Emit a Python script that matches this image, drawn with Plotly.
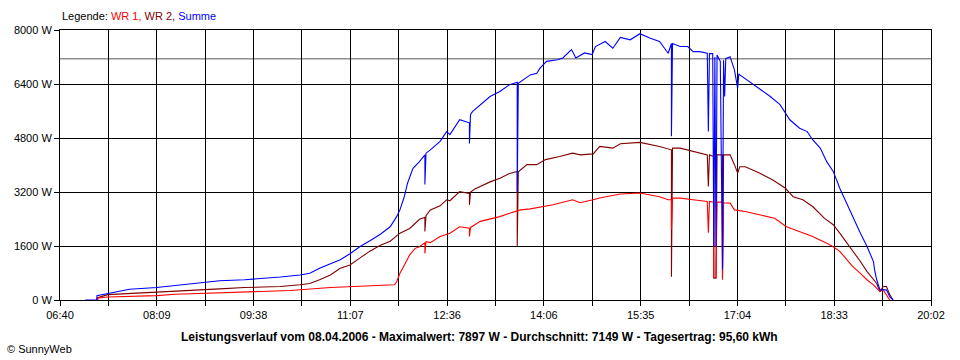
import plotly.graph_objects as go

# ---------------- data ----------------
x_tick_labels = ["06:40", "08:09", "09:38", "11:07", "12:36", "14:06",
                 "15:35", "17:04", "18:33", "20:02"]
y_tick_values = [0, 1600, 3200, 4800, 6400, 8000]
avg_w = 7149

wr1_time = ["07:15", "07:15", "07:24", "07:35", "08:09", "08:26", "08:53", "09:16", "09:44",
            "10:12", "10:49", "11:25", "11:48", "11:50", "11:53", "11:58", "12:02", "12:07",
            "12:11", "12:16", "12:16", "12:17", "12:21", "12:30", "12:39", "12:48", "12:57",
            "12:57", "12:58", "13:07", "13:19", "13:25", "13:34", "13:44", "13:53", "14:02",
            "14:14", "14:32", "14:39", "14:51", "14:57", "15:16", "15:34", "15:52", "16:00",
            "16:03", "16:03", "16:04", "16:11", "16:23", "16:36", "16:37", "16:38", "16:42",
            "16:42", "16:44", "16:45", "16:50", "16:50", "16:51", "16:57", "17:01", "17:11",
            "17:25", "17:38", "17:49", "18:01", "18:13", "18:26", "18:32", "18:38", "18:45",
            "18:50", "18:57", "19:03", "19:09", "19:12", "19:15", "19:18", "19:21", "19:24"]
wr1_w = [0, 60, 90, 100, 130, 170, 200, 220, 250,
         280, 370, 420, 450, 540, 790, 1090, 1340, 1530,
         1580, 1700, 1380, 1730, 1700, 1880, 1980, 2170, 2130,
         1880, 2150, 2330, 2420, 2470, 2570, 2670, 2700, 2750,
         2820, 2970, 2880, 2970, 3020, 3140, 3170, 3060, 2970,
         2970, 2080, 3020, 3020, 2970, 2920, 1990, 2920, 2900,
         650, 650, 2900, 2900, 600, 2880, 2870, 2670, 2620,
         2520, 2420, 2170, 2030, 1880, 1680, 1580, 1440, 1190,
         990, 790, 600, 450, 350, 250, 300, 160, 0]

wr2_time = ["07:14", "07:14", "07:24", "07:44", "08:09", "08:40", "08:53", "09:07", "09:30",
            "09:44", "10:03", "10:21", "10:30", "10:39", "10:49", "10:58", "11:07", "11:16",
            "11:25", "11:35", "11:44", "11:53", "12:02", "12:11", "12:16", "12:16", "12:17",
            "12:21", "12:30", "12:36", "12:39", "12:48", "12:57", "12:57", "12:58", "13:02",
            "13:16", "13:25", "13:34", "13:41", "13:41", "13:42", "13:50", "13:59", "14:07",
            "14:20", "14:32", "14:39", "14:51", "14:57", "15:09", "15:16", "15:34", "15:52",
            "16:02", "16:03", "16:03", "16:04", "16:11", "16:23", "16:36", "16:37", "16:38",
            "16:42", "16:42", "16:44", "16:45", "16:50", "16:50", "16:51", "16:57", "17:01",
            "17:04", "17:06", "17:11", "17:24", "17:36", "17:48", "17:55", "18:04", "18:13",
            "18:24", "18:32", "18:38", "18:45", "18:50", "18:57", "19:03", "19:09", "19:12",
            "19:15", "19:18", "19:21", "19:24", "19:27"]
wr2_w = [0, 60, 160, 190, 230, 270, 300, 330, 370,
         380, 400, 450, 490, 600, 740, 940, 1040, 1240,
         1440, 1620, 1740, 1980, 2120, 2390, 2450, 2030, 2500,
         2670, 2790, 2970, 2940, 3210, 3160, 2820, 3200, 3290,
         3500, 3610, 3750, 3810, 1600, 3800, 4010, 4010, 4160,
         4250, 4350, 4300, 4330, 4550, 4500, 4630, 4670, 4550,
         4450, 4450, 690, 4500, 4500, 4400, 4300, 3360, 4300,
         4250, 650, 650, 4300, 4300, 650, 4300, 4300, 4010,
         3760, 3950, 3950, 3760, 3560, 3310, 3060, 2970, 2770,
         2420, 2230, 1980, 1680, 1440, 1140, 850, 600, 490,
         250, 400, 400, 160, 0]

sum_time = ["07:03", "07:14", "07:14", "07:24", "07:35", "07:44", "08:09", "08:21", "08:40",
            "08:53", "09:07", "09:30", "09:44", "10:03", "10:21", "10:30", "10:39", "10:49",
            "10:58", "11:07", "11:16", "11:25", "11:35", "11:44", "11:50", "11:53", "11:57",
            "12:00", "12:05", "12:11", "12:16", "12:16", "12:17", "12:21", "12:30", "12:36",
            "12:39", "12:48", "12:53", "12:57", "12:57", "12:58", "13:00", "13:07", "13:16",
            "13:25", "13:34", "13:41", "13:41", "13:42", "13:44", "13:53", "13:59", "14:02",
            "14:08", "14:18", "14:23", "14:31", "14:35", "14:43", "14:50", "14:53", "15:02",
            "15:09", "15:16", "15:25", "15:34", "15:43", "15:52", "16:00", "16:03", "16:03",
            "16:04", "16:11", "16:18", "16:23", "16:29", "16:36", "16:37", "16:38", "16:41",
            "16:42", "16:43", "16:44", "16:45", "16:48", "16:50", "16:51", "16:52", "16:53",
            "16:57", "17:01", "17:04", "17:05", "17:06", "17:15", "17:24", "17:34", "17:43",
            "17:52", "18:01", "18:08", "18:13", "18:20", "18:26", "18:32", "18:38", "18:45",
            "18:50", "18:57", "19:03", "19:09", "19:10", "19:12", "19:15", "19:18", "19:21",
            "19:24", "19:27"]
sum_w = [0, 0, 130, 190, 270, 320, 370, 410, 470,
         510, 570, 600, 630, 680, 740, 790, 940, 1060,
         1190, 1370, 1580, 1750, 1950, 2170, 2470, 2670, 3060,
         3460, 3900, 4100, 4300, 3420, 4350, 4450, 4700, 4990,
         4900, 5340, 5300, 5250, 4640, 5500, 5590, 5790, 6030,
         6180, 6380, 6450, 3210, 6420, 6470, 6670, 6720, 6870,
         7070, 7120, 7170, 7420, 7170, 7320, 7270, 7510, 7660,
         7460, 7780, 7710, 7890, 7760, 7660, 7310, 7600, 4850,
         7600, 7510, 7510, 7360, 7360, 7310, 4990, 7300, 7300,
         1580, 7200, 1580, 7260, 7070, 900, 7100, 6030, 7150,
         7210, 6820, 6270, 6700, 6670, 6470, 6270, 6030, 5790,
         5340, 5090, 4990, 4750, 4500, 4100, 3810, 3310, 2820,
         2420, 1980, 1590, 1140, 900, 600, 300, 300, 300,
         100, 0]


def to_min(t):
    h, m = t.split(":")
    return int(h) * 60 + int(m)


x0 = to_min(x_tick_labels[0])
x1 = to_min(x_tick_labels[-1])
n_grid = 2 * (len(x_tick_labels) - 1)
grid_vals = [x0 + (x1 - x0) * k / n_grid for k in range(n_grid + 1)]
grid_text = [x_tick_labels[k // 2] if k % 2 == 0 else "" for k in range(n_grid + 1)]

FONT = "Liberation Sans, Arial, sans-serif"

fig = go.Figure()
fig.add_trace(go.Scatter(x=[to_min(t) for t in wr2_time], y=wr2_w, mode="lines",
                         line=dict(color="#800000", width=1.1), name="WR 2"))
fig.add_trace(go.Scatter(x=[to_min(t) for t in wr1_time], y=wr1_w, mode="lines",
                         line=dict(color="#FF0000", width=1.1), name="WR 1"))
fig.add_trace(go.Scatter(x=[to_min(t) for t in sum_time], y=sum_w, mode="lines",
                         line=dict(color="#0000FF", width=1.1), name="Summe"))

fig.add_shape(type="line", xref="paper", x0=0, x1=1, yref="y", y0=avg_w, y1=avg_w,
              line=dict(color="#909090", width=1.5), layer="between")

fig.update_layout(
    width=960, height=360,
    margin=dict(l=60, r=29, t=30, b=60),
    paper_bgcolor="white", plot_bgcolor="white",
    showlegend=False,
    font=dict(family=FONT, size=11, color="black"),
)
fig.update_xaxes(range=[x0, x1], tickmode="array", tickvals=grid_vals, ticktext=grid_text,
                 showgrid=True, gridcolor="black", gridwidth=1,
                 showline=True, linecolor="black", linewidth=1, mirror=True,
                 ticks="outside", ticklen=5, tickcolor="black", tickwidth=1,
                 zeroline=False, tickfont=dict(size=11))
fig.update_yaxes(range=[0, 8000], tickmode="array", tickvals=y_tick_values,
                 ticktext=[f"{v} W" for v in y_tick_values],
                 showgrid=True, gridcolor="black", gridwidth=1,
                 showline=True, linecolor="black", linewidth=1, mirror=True,
                 ticks="outside", ticklen=5, tickcolor="black", tickwidth=1,
                 zeroline=False, tickfont=dict(size=11))

fig.add_annotation(xref="paper", yref="paper", x=0, y=1.052, xanchor="left", yanchor="middle",
                   showarrow=False, font=dict(size=11),
                   text="Legende: <span style='color:#FF0000'>WR 1,</span> "
                        "<span style='color:#800000'>WR 2,</span> "
                        "<span style='color:#0000FF'>Summe</span>")
fig.add_annotation(xref="paper", yref="paper", x=0.482, y=-0.137, xanchor="center",
                   yanchor="middle", showarrow=False, font=dict(size=12),
                   text="<b>Leistungsverlauf vom 08.04.2006 - Maximalwert: 7897 W - "
                        "Durchschnitt: 7149 W - Tagesertrag: 95,60 kWh</b>")
fig.add_annotation(xref="paper", yref="paper", x=-0.063, y=-0.181, xanchor="left",
                   yanchor="middle", showarrow=False, font=dict(size=11),
                   text="© SunnyWeb")

fig.write_html("out.html", config={"displayModeBar": False},
               post_script="document.body.style.margin='0';document.body.style.overflow='hidden';")
